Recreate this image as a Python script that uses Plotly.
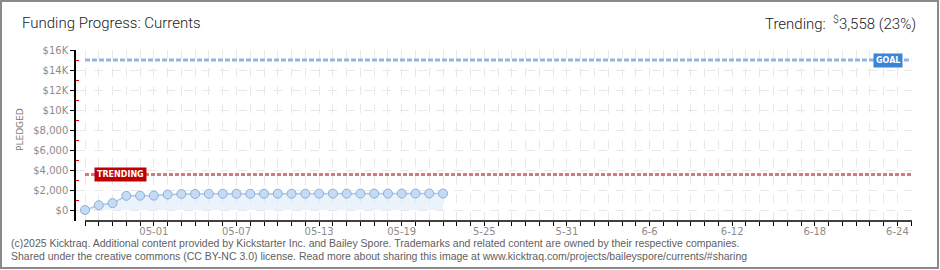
import datetime as dt
import plotly.graph_objects as go

# ---------------- data ----------------
dates = [(dt.date(2025, 4, 26) + dt.timedelta(days=i)).isoformat() for i in range(27)]
pledged = [0, 480, 690, 1420, 1430, 1440, 1550, 1600, 1610, 1615, 1620, 1620, 1625,
           1625, 1630, 1630, 1630, 1635, 1635, 1640, 1640, 1640, 1645, 1645, 1650, 1650, 1650]
goal_value = 15000
trending_value = 3558
trending_pct = 23

day_ticks = [(dt.date(2025, 4, 26) + dt.timedelta(days=i)).isoformat() for i in range(61)]
xlabel_dates = ["2025-05-01", "2025-05-07", "2025-05-13", "2025-05-19", "2025-05-25",
                "2025-05-31", "2025-06-06", "2025-06-12", "2025-06-18", "2025-06-24"]
xlabel_text = ["05-01", "05-07", "05-13", "05-19", "5-25", "5-31", "6-6", "6-12", "6-18", "6-24"]
ytick_vals = [0, 2000, 4000, 6000, 8000, 10000, 12000, 14000, 16000]
ytick_text = ["$0", "$2,000", "$4,000", "$6,000", "$8,000", "$10K", "$12K", "$14K", "$16K"]
ytick_minor = [1000, 3000, 5000, 7000, 9000, 11000, 13000, 15000]

# ---------------- geometry ----------------
W, H = 940, 270
PL, PR, PT, PB = 76, 912, 50, 221          # plot area pixel bounds
PX_PER_DAY = 13.77
x0_date = dt.datetime(2025, 4, 26)
x_left = x0_date - dt.timedelta(days=(85 - PL) / PX_PER_DAY)
x_right = x0_date + dt.timedelta(days=(PR - 85) / PX_PER_DAY)
Y_MIN, Y_MAX = -1100, 16000

def xp(px):
    return (px - PL) / (PR - PL)

def yp(py):
    return (PB - py) / (PB - PT)

fig = go.Figure()

# pledged series
fig.add_trace(go.Scatter(
    x=dates, y=pledged, mode="lines+markers",
    line=dict(color="#a9c8ec", width=1.5),
    marker=dict(size=9, color="#c4dbf5", line=dict(color="#8fadd3", width=1)),
    fill="tozeroy", fillcolor="rgba(214,232,250,0.5)",
    hoverinfo="skip", showlegend=False,
))

last_date = day_ticks[-1]
# goal line
fig.add_trace(go.Scatter(
    x=[day_ticks[0], last_date], y=[goal_value, goal_value], mode="lines",
    line=dict(color="#93b5de", width=3, dash="5px,2px"), showlegend=False, hoverinfo="skip"))
# trending line
fig.add_trace(go.Scatter(
    x=[day_ticks[0], last_date], y=[trending_value, trending_value], mode="lines",
    line=dict(color="#d57a7a", width=3, dash="4px,2px"), showlegend=False, hoverinfo="skip"))

fig.update_xaxes(
    type="date", range=[x_left, x_right],
    tickmode="array", tickvals=xlabel_dates, ticktext=xlabel_text,
    ticks="outside", ticklen=4, tickwidth=1, tickcolor="#000",
    minor=dict(tickmode="array", tickvals=day_ticks, ticks="outside", ticklen=4,
               tickwidth=1, tickcolor="#000", showgrid=True, gridcolor="#e8e8e8",
               griddash="dash", gridwidth=1),
    showgrid=True, gridcolor="#e8e8e8", griddash="dash", gridwidth=1,
    showline=False, zeroline=False,
    tickfont=dict(family="DejaVu Sans", size=10, color="#8c8c8c"),
    ticklabelstandoff=-3,
)
fig.update_yaxes(
    range=[Y_MIN, Y_MAX],
    tickmode="array", tickvals=ytick_vals, ticktext=ytick_text,
    ticks="outside", ticklen=4, tickwidth=1, tickcolor="#000",
    minor=dict(tickmode="array", tickvals=ytick_minor,
               ticks="inside", ticklen=3, tickcolor="#e00000", showgrid=False),
    showgrid=True, gridcolor="#e8e8e8", griddash="dash", gridwidth=1,
    showline=True, linecolor="#000", linewidth=1.5, zeroline=False,
    tickfont=dict(family="DejaVu Sans", size=10, color="#8c8c8c"),
)

shapes = [
    # x axis line
    dict(type="line", xref="x", yref="paper", x0=day_ticks[0], x1=x_right, y0=0, y1=0,
         line=dict(color="#000", width=1.5)),
    # outer border
    dict(type="rect", xref="paper", yref="paper", x0=xp(1), x1=xp(938), y0=yp(1), y1=yp(268),
         line=dict(color="#8a8a8a", width=2), fillcolor="rgba(0,0,0,0)", layer="above"),
]

title_font = dict(family="Roboto", size=15, color="#1a1a1a", weight=300)
annotations = [
    dict(xref="paper", yref="paper", x=xp(20), y=yp(23), xanchor="left", yanchor="middle",
         text="Funding Progress: Currents", showarrow=False, font=title_font),
    dict(xref="paper", yref="paper", x=xp(918), y=yp(23), xanchor="right", yanchor="middle",
         text=f"Trending:  <sup>$</sup>{trending_value:,} ({trending_pct}%)", showarrow=False,
         font=title_font),
    dict(xref="paper", yref="paper", x=xp(20), y=yp(130), xanchor="center", yanchor="middle",
         text="PLEDGED", textangle=-90, showarrow=False,
         font=dict(family="DejaVu Sans", size=9, color="#7a7a7a")),
    dict(xref="paper", yref="paper", x=xp(888), y=yp(60), xanchor="center", yanchor="middle",
         text="<b>GOAL</b>", showarrow=False, bgcolor="#3b86d4", borderpad=2,
         font=dict(family="DejaVu Sans", size=8, color="#fff")),
    dict(xref="paper", yref="paper", x=xp(120), y=yp(174), xanchor="center", yanchor="middle",
         text="<b>TRENDING</b>", showarrow=False, bgcolor="#c00000", borderpad=2,
         font=dict(family="DejaVu Sans", size=8, color="#fff")),
    dict(xref="paper", yref="paper", x=xp(9), y=yp(243), xanchor="left", yanchor="middle",
         text="(c)2025 Kicktraq. Additional content provided by Kickstarter Inc. and Bailey Spore. "
              "Trademarks and related content are owned by their respective companies.",
         showarrow=False, font=dict(family="Liberation Sans", size=10.5, color="#606060")),
    dict(xref="paper", yref="paper", x=xp(9), y=yp(256), xanchor="left", yanchor="middle",
         text="Shared under the creative commons (CC BY-NC 3.0) license. Read more about sharing "
              "this image at www.kicktraq.com/projects/baileyspore/currents/#sharing",
         showarrow=False, font=dict(family="Liberation Sans", size=10.5, color="#606060")),
]

fig.update_layout(
    width=W, height=H,
    margin=dict(l=PL, r=W - PR, t=PT, b=H - PB),
    paper_bgcolor="#fff", plot_bgcolor="#fff",
    shapes=shapes, annotations=annotations, showlegend=False,
)

fig.write_html("out.html", config={"displayModeBar": False})
